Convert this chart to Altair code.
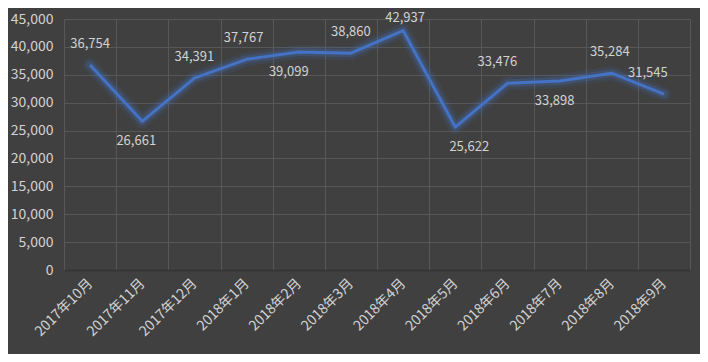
import altair as alt
import pandas as pd

months = ["2017年10月", "2017年11月", "2017年12月", "2018年1月", "2018年2月", "2018年3月",
          "2018年4月", "2018年5月", "2018年6月", "2018年7月", "2018年8月", "2018年9月"]
values = [36754, 26661, 34391, 37767, 39099, 38860, 42937, 25622, 33476, 33898, 35284, 31545]
placement = ["above", "below", "above", "above", "below", "above",
             "top", "below", "above", "below", "above", "above"]
# label nudges (px), layout only
label_dx = [0, -6, 0, -3, -10, 0, 2, 14, -10, -5, -2, -16]

PLOT_W, PLOT_H = 626, 251
HALF_BAND = PLOT_W / len(months) / 2

df = pd.DataFrame({"month": months, "value": values, "pos": placement, "dx": label_dx})
df["xoff"] = df["dx"] + HALF_BAND

FONT = "Noto Sans CJK SC"
TXT = "#d2d2d2"
BLUE = "#4472C4"

x = alt.X("month:N", sort=months, title=None,
          scale=alt.Scale(type="band", paddingInner=0, paddingOuter=0),
          axis=alt.Axis(labelAngle=-45, labelAlign="right", labelBaseline="middle",
                        labelPadding=11, labelFont=FONT, labelFontSize=14, labelColor=TXT,
                        ticks=False, domain=True, domainColor="#333333", domainWidth=1.5,
                        grid=True, tickBand="extent",
                        gridColor="#575757", gridWidth=1))
y = alt.Y("value:Q", title=None,
          scale=alt.Scale(domain=[0, 45000], nice=False),
          axis=alt.Axis(values=list(range(0, 45001, 5000)), format=",.0f",
                        labelFont=FONT, labelFontSize=14, labelColor=TXT, labelPadding=11,
                        ticks=False, domain=False, grid=True, gridColor="#575757", gridWidth=1))

base = alt.Chart(df)

glow1 = base.mark_line(color=BLUE, strokeWidth=14, opacity=0.12, strokeJoin="round", strokeCap="round").encode(x=x, y=y)
glow2 = base.mark_line(color=BLUE, strokeWidth=8, opacity=0.25, strokeJoin="round", strokeCap="round").encode(x=x, y=y)
line = base.mark_line(color=BLUE, strokeWidth=3, strokeJoin="round").encode(x=x, y=y)


def label_layer(pos, dy):
    return base.transform_filter(alt.datum.pos == pos).mark_text(
        font=FONT, fontSize=13, color=TXT, dy=dy
    ).encode(
        x=x, y=y,
        xOffset=alt.XOffset("xoff:Q", scale=None),
        text=alt.Text("value:Q", format=",.0f"),
    )


chart = alt.layer(
    glow1, glow2, line,
    label_layer("above", -21), label_layer("below", 20), label_layer("top", -13),
).properties(
    width=PLOT_W, height=PLOT_H,
    background="#404040",
    padding={"left": 56, "top": 11, "right": 10, "bottom": 84},
    autosize=alt.AutoSizeParams(type="none"),
).configure_view(stroke=None)

chart.save("out.html", embed_options={"renderer": "svg", "actions": False})
